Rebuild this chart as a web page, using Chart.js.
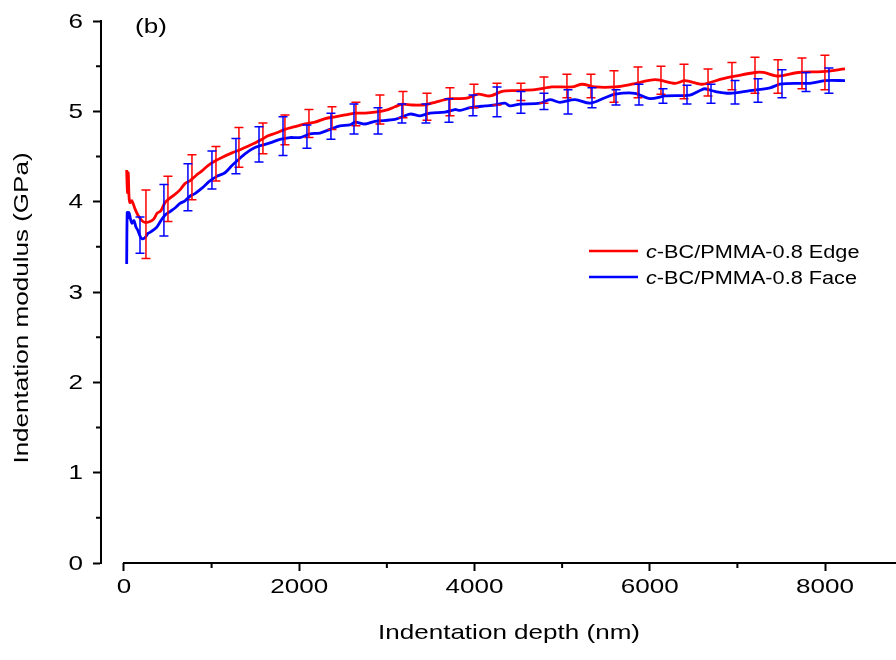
<!DOCTYPE html>
<html>
<head>
<meta charset="utf-8">
<script src="https://cdn.jsdelivr.net/npm/chart.js@4.4.1/dist/chart.umd.min.js"></script>
<style>
  body { margin: 0; background: #fff; }
  #wrap { width: 896px; height: 660px; }
</style>
</head>
<body>
<div id="wrap"><canvas id="chart"></canvas></div>
<script>
// Edge curve (depth nm, modulus GPa)
const edgeX = [31, 40, 49, 57, 68, 91, 126, 160, 205, 240, 297, 342, 377, 422, 468, 525, 582, 639, 696, 753, 822, 890, 959, 1039, 1118, 1233, 1312, 1381, 1495, 1575, 1644, 1735, 1838, 1951, 2066, 2180, 2295, 2408, 2523, 2636, 2751, 2864, 3014, 3093, 3174, 3286, 3402, 3470, 3550, 3663, 3744, 3834, 3927, 4041, 4178, 4315, 4462, 4692, 4886, 5114, 5228, 5376, 5605, 5799, 6062, 6290, 6404, 6598, 6826, 6975, 7203, 7295, 7466, 7694, 7968, 8228];
const edgeY = [4.35, 4.10, 4.32, 4.07, 3.99, 4.01, 3.92, 3.85, 3.79, 3.77, 3.78, 3.81, 3.87, 3.90, 3.99, 4.04, 4.08, 4.13, 4.20, 4.23, 4.29, 4.34, 4.40, 4.45, 4.49, 4.54, 4.57, 4.60, 4.65, 4.69, 4.73, 4.76, 4.80, 4.83, 4.86, 4.88, 4.92, 4.94, 4.96, 4.98, 4.98, 4.99, 5.02, 5.05, 5.08, 5.07, 5.07, 5.08, 5.10, 5.13, 5.14, 5.14, 5.15, 5.19, 5.17, 5.22, 5.23, 5.24, 5.27, 5.27, 5.30, 5.27, 5.27, 5.30, 5.35, 5.31, 5.34, 5.30, 5.36, 5.39, 5.43, 5.43, 5.39, 5.43, 5.44, 5.47];

// Face curve
const faceX = [31, 37, 46, 57, 74, 91, 114, 137, 160, 183, 205, 240, 274, 297, 342, 377, 422, 468, 525, 582, 639, 696, 753, 810, 890, 981, 1061, 1153, 1233, 1312, 1381, 1495, 1666, 1780, 1894, 2008, 2123, 2237, 2351, 2465, 2579, 2636, 2751, 2864, 3093, 3264, 3378, 3492, 3663, 3777, 3834, 3948, 4120, 4234, 4348, 4405, 4519, 4747, 4861, 4975, 5147, 5318, 5489, 5603, 5831, 6002, 6174, 6459, 6573, 6630, 6744, 6915, 7143, 7372, 7486, 7714, 7828, 8000, 8228];
const faceY = [3.31, 3.88, 3.82, 3.88, 3.81, 3.76, 3.79, 3.72, 3.68, 3.62, 3.59, 3.60, 3.65, 3.66, 3.69, 3.72, 3.79, 3.85, 3.89, 3.93, 3.98, 4.01, 4.06, 4.09, 4.15, 4.23, 4.28, 4.32, 4.40, 4.47, 4.53, 4.60, 4.65, 4.69, 4.71, 4.71, 4.75, 4.76, 4.80, 4.84, 4.85, 4.88, 4.86, 4.89, 4.91, 4.97, 4.95, 4.98, 4.99, 5.02, 5.01, 5.04, 5.06, 5.07, 5.09, 5.06, 5.08, 5.09, 5.13, 5.10, 5.13, 5.09, 5.15, 5.19, 5.20, 5.14, 5.17, 5.18, 5.23, 5.25, 5.22, 5.20, 5.23, 5.26, 5.30, 5.31, 5.31, 5.34, 5.34];

// Error bars (upper / lower ends)
const edgeErrX = [251, 502, 776, 1050, 1312, 1586, 1837, 2111, 2374, 2647, 2921, 3184, 3458, 3720, 3994, 4257, 4530, 4793, 5055, 5329, 5592, 5866, 6128, 6391, 6665, 6938, 7201, 7463, 7737, 7999];
const edgeErrHigh = [4.13, 4.28, 4.52, 4.61, 4.82, 4.87, 4.96, 5.02, 5.05, 5.10, 5.18, 5.22, 5.20, 5.26, 5.30, 5.31, 5.31, 5.38, 5.41, 5.41, 5.45, 5.49, 5.50, 5.52, 5.47, 5.54, 5.60, 5.57, 5.59, 5.62];
const edgeErrLow = [3.37, 3.78, 4.02, 4.23, 4.38, 4.53, 4.63, 4.71, 4.80, 4.84, 4.86, 4.93, 4.90, 4.95, 5.04, 5.07, 5.12, 5.09, 5.15, 5.15, 5.10, 5.15, 5.19, 5.14, 5.17, 5.24, 5.20, 5.20, 5.25, 5.24];

const faceErrX = [183, 456, 730, 1004, 1278, 1541, 1815, 2088, 2362, 2625, 2899, 3172, 3446, 3709, 3983, 4257, 4530, 4793, 5067, 5341, 5615, 5877, 6151, 6425, 6699, 6973, 7235, 7509, 7783, 8045];
const faceErrHigh = [3.83, 4.19, 4.42, 4.56, 4.70, 4.83, 4.94, 4.85, 4.98, 5.08, 5.04, 5.08, 5.08, 5.14, 5.18, 5.27, 5.22, 5.20, 5.24, 5.26, 5.24, 5.30, 5.25, 5.29, 5.30, 5.34, 5.36, 5.46, 5.43, 5.48];
const faceErrLow = [3.43, 3.62, 3.90, 4.14, 4.31, 4.44, 4.51, 4.59, 4.69, 4.75, 4.75, 4.87, 4.87, 4.88, 4.95, 4.94, 4.98, 5.02, 4.97, 5.04, 5.07, 5.07, 5.09, 5.08, 5.09, 5.08, 5.10, 5.15, 5.22, 5.20];

const xTicks = [0, 2000, 4000, 6000, 8000];
const xMinor = [1000, 3000, 5000, 7000];
const yTicks = [0, 1, 2, 3, 4, 5, 6];
const yMinor = [0.5, 1.5, 2.5, 3.5, 4.5, 5.5];

const seriesNames = ['-BC/PMMA-0.8 Edge', '-BC/PMMA-0.8 Face'];
const seriesColors = ['#ff0000', '#0000ff'];

const FONT = '"Liberation Sans", Arial, Helvetica, sans-serif';
const WIDE = 1.24;  // text in the figure is wider than Arial

function toPoints(xs, ys) {
    return xs.map((x, i) => ({ x: x, y: ys[i] }));
}

// text drawn in pieces (font, string), stretched along its direction
function wideText(ctx, parts, x, y, align, rot) {
    ctx.save();
    ctx.translate(x, y);
    if (rot) ctx.rotate(rot);
    ctx.scale(WIDE, 1);
    let total = 0;
    parts.forEach(p => { ctx.font = p[0]; total += ctx.measureText(p[1]).width; });
    let cx = align === 'center' ? -total / 2 : (align === 'right' ? -total : 0);
    ctx.textAlign = 'left';
    parts.forEach(p => {
        ctx.font = p[0];
        ctx.fillText(p[1], cx, 0);
        cx += ctx.measureText(p[1]).width;
    });
    ctx.restore();
}

// draws error bars, axis bits, labels and legend
const extras = {
    id: 'extras',
    afterDatasetsDraw(chart) {
        const ctx = chart.ctx;
        const xs = chart.scales.x;
        const ys = chart.scales.y;
        const area = chart.chartArea;

        function errBars(errX, hi, lo, color) {
            ctx.save();
            ctx.strokeStyle = color;
            ctx.lineWidth = 1.5;
            ctx.beginPath();
            errX.forEach((v, i) => {
                const px = xs.getPixelForValue(v);
                const t = ys.getPixelForValue(hi[i]);
                const b = ys.getPixelForValue(lo[i]);
                ctx.moveTo(px, t); ctx.lineTo(px, b);
                ctx.moveTo(px - 4.5, t); ctx.lineTo(px + 4.5, t);
                ctx.moveTo(px - 4.5, b); ctx.lineTo(px + 4.5, b);
            });
            ctx.stroke();
            ctx.restore();
        }
        errBars(edgeErrX, edgeErrHigh, edgeErrLow, seriesColors[0]);
        errBars(faceErrX, faceErrHigh, faceErrLow, seriesColors[1]);

        ctx.save();
        ctx.strokeStyle = '#000';
        ctx.lineWidth = 2;
        // x axis line, starts at 0
        const x0 = xs.getPixelForValue(0);
        ctx.beginPath();
        ctx.moveTo(x0 - 1, area.bottom);
        ctx.lineTo(area.right, area.bottom);
        ctx.stroke();
        // minor ticks
        ctx.beginPath();
        xMinor.forEach(v => {
            const px = xs.getPixelForValue(v);
            ctx.moveTo(px, area.bottom);
            ctx.lineTo(px, area.bottom + 5);
        });
        yMinor.forEach(v => {
            const py = ys.getPixelForValue(v);
            ctx.moveTo(area.left, py);
            ctx.lineTo(area.left - 5, py);
        });
        ctx.stroke();

        ctx.fillStyle = '#000';
        ctx.textBaseline = 'middle';
        const tickFont = '21px ' + FONT;
        xTicks.forEach(v => {
            wideText(ctx, [[tickFont, String(v)]], xs.getPixelForValue(v), area.bottom + 24, 'center');
        });
        yTicks.forEach(v => {
            wideText(ctx, [[tickFont, String(v)]], area.left - 18, ys.getPixelForValue(v) + 1, 'right');
        });

        // axis titles
        const titleFont = '21px ' + FONT;
        wideText(ctx, [[titleFont, 'Indentation depth (nm)']], 509, 633, 'center');
        wideText(ctx, [[titleFont, 'Indentation modulus (GPa)']], 22, 308, 'center', -Math.PI / 2);

        // panel label
        wideText(ctx, [['21px ' + FONT, '(b)']], 135, 27, 'left');

        // legend
        ctx.textBaseline = 'alphabetic';
        seriesNames.forEach((name, i) => {
            const ly = 251 + i * 26;
            ctx.strokeStyle = seriesColors[i];
            ctx.lineWidth = 2.5;
            ctx.beginPath();
            ctx.moveTo(589, ly);
            ctx.lineTo(638, ly);
            ctx.stroke();
            ctx.fillStyle = '#000';
            wideText(ctx, [['italic 17.5px ' + FONT, 'c'], ['17.5px ' + FONT, name]], 646, ly + 6.5, 'left');
        });
        ctx.restore();
    }
};

const ctx = document.getElementById('chart').getContext('2d');
const chart = new Chart(ctx, {
    type: 'line',
    data: {
        datasets: [
            {
                label: 'c' + seriesNames[0],
                data: toPoints(edgeX, edgeY),
                borderColor: seriesColors[0],
                borderWidth: 2.8,
                pointRadius: 0,
                tension: 0.3
            },
            {
                label: 'c' + seriesNames[1],
                data: toPoints(faceX, faceY),
                borderColor: seriesColors[1],
                borderWidth: 2.8,
                pointRadius: 0,
                tension: 0.3
            }
        ]
    },
    options: {
        responsive: true,
        maintainAspectRatio: false,
        animation: false,
        layout: { padding: { top: 21, right: 0, left: 0, bottom: 0 } },
        plugins: {
            legend: { display: false },
            tooltip: { enabled: false }
        },
        scales: {
            x: {
                type: 'linear',
                min: -262,
                max: 8810,
                afterBuildTicks: s => { s.ticks = xTicks.map(v => ({ value: v })); },
                afterFit: s => { s.height = 97; },
                border: { display: false },
                grid: { drawOnChartArea: false, drawTicks: true, tickLength: 8, tickWidth: 2, tickColor: '#000' },
                ticks: { display: false }
            },
            y: {
                min: 0,
                max: 6,
                afterBuildTicks: s => { s.ticks = yTicks.map(v => ({ value: v })); },
                afterFit: s => { s.width = 101; },
                border: { display: true, color: '#000', width: 2 },
                grid: { drawOnChartArea: false, drawTicks: true, tickLength: 8, tickWidth: 2, tickColor: '#000' },
                ticks: { display: false }
            }
        }
    },
    plugins: [extras]
});
</script>
</body>
</html>
